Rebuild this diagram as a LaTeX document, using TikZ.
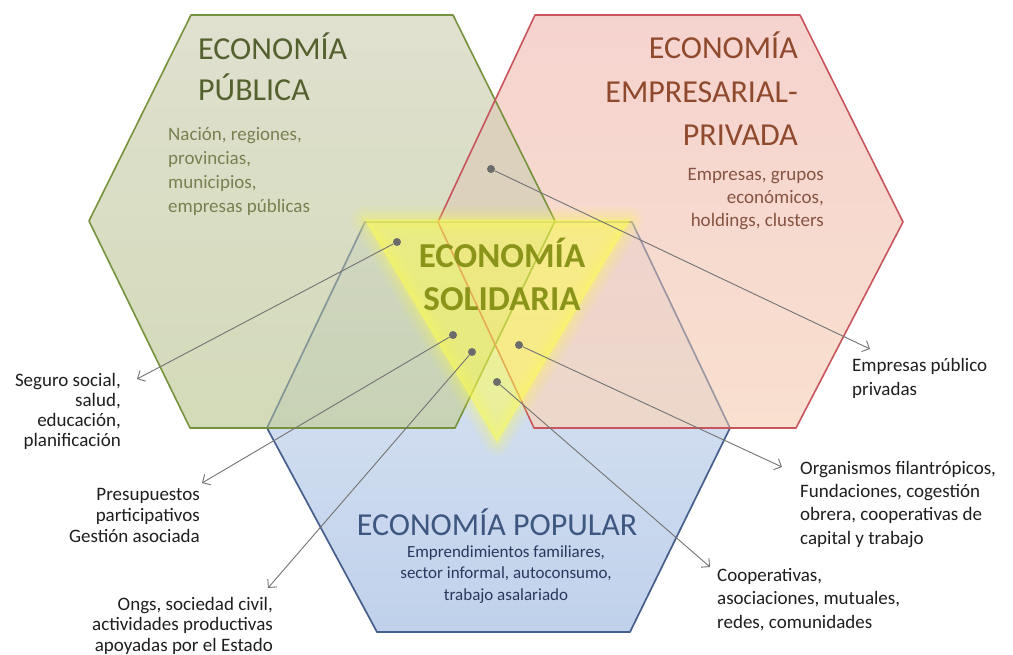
\documentclass[tikz,border=0pt]{standalone}
\usepackage{fontspec}
\setmainfont{Carlito}
\usetikzlibrary{arrows.meta}
\definecolor{gEdge}{RGB}{118,146,60}
\definecolor{rEdge}{RGB}{200,85,92}
\definecolor{bEdge}{RGB}{70,95,140}
\definecolor{gTop}{rgb}{0.84,0.84,0.75}
\definecolor{gBot}{rgb}{0.77,0.81,0.63}
\definecolor{rTop}{rgb}{0.95,0.77,0.75}
\definecolor{rBot}{rgb}{0.97,0.84,0.75}
\definecolor{bTop}{rgb}{0.88,0.91,0.96}
\definecolor{bBot}{rgb}{0.75,0.82,0.92}
\definecolor{ovl}{rgb}{0.86,0.82,0.74}
\definecolor{yel}{rgb}{1,1,0.3}
\definecolor{gTitle}{rgb}{0.33,0.38,0.18}
\definecolor{gSub}{rgb}{0.47,0.50,0.32}
\definecolor{rTitle}{rgb}{0.56,0.29,0.18}
\definecolor{rSub}{rgb}{0.52,0.33,0.26}
\definecolor{solCol}{rgb}{0.54,0.58,0.10}
\definecolor{popTitle}{rgb}{0.24,0.34,0.50}
\definecolor{popSub}{rgb}{0.16,0.22,0.36}
\definecolor{labcol}{rgb}{0.12,0.12,0.12}
\definecolor{dotgray}{rgb}{0.42,0.42,0.42}
\definecolor{linegray}{rgb}{0.45,0.45,0.45}
\begin{document}
\begin{tikzpicture}[x=1pt,y=-1pt,
  dot/.style={circle,fill=dotgray,inner sep=0pt,minimum size=8pt},
  conn/.style={draw=linegray,line width=0.9pt,-{Straight Barb[length=6pt,width=12pt]}},
  hexedge/.style={line width=1.6pt,line join=round},
  txt/.style={inner sep=0pt},
  lab/.style={inner sep=0pt,text=labcol}]
\useasboundingbox (0,0) rectangle (1013,655);
\fill[white] (0,0) rectangle (1013,655);
% blue hexagon
\shade[top color=bTop,bottom color=bBot] (365,222) -- (632,222) -- (730,428) -- (630,632) -- (377,632) -- (267,428) -- cycle;
\draw[hexedge,bEdge] (365,222) -- (632,222) -- (730,428) -- (630,632) -- (377,632) -- (267,428) -- cycle;
% green hexagon
\shade[top color=gTop,bottom color=gBot,opacity=0.75] (191,15) -- (453,15) -- (555,221) -- (455,428) -- (190,428) -- (89,221) -- cycle;
% red hexagon
\shade[top color=rTop,bottom color=rBot,opacity=0.75] (535,15) -- (800,15) -- (903,222) -- (796,428) -- (534,428) -- (438,222) -- cycle;
% overlap green/red
\begin{scope}
\clip (191,15) -- (453,15) -- (555,221) -- (455,428) -- (190,428) -- (89,221) -- cycle;
\fill[ovl] (535,15) -- (800,15) -- (903,222) -- (796,428) -- (534,428) -- (438,222) -- cycle;
\end{scope}
\draw[hexedge,bEdge,draw opacity=0.35] (365,222) -- (632,222) -- (730,428) -- (630,632) -- (377,632) -- (267,428) -- cycle;
\draw[hexedge,gEdge] (191,15) -- (453,15) -- (555,221) -- (455,428) -- (190,428) -- (89,221) -- cycle;
\draw[hexedge,rEdge] (535,15) -- (800,15) -- (903,222) -- (796,428) -- (534,428) -- (438,222) -- cycle;
% triangle with glow
\foreach \w/\o in {28/0.05,22/0.07,16/0.08,10/0.1,5/0.12}{
  \draw[yel,line width=\w pt,opacity=\o,line join=round] (365,220) -- (630,220) -- (497,442) -- cycle;
}
\fill[yel,opacity=0.52] (365,220) -- (630,220) -- (497,442) -- cycle;
% titles and texts
\node[txt,anchor=north west,align=left,text=gTitle,font=\fontsize{32}{41}\selectfont] (tpub) at (198,33) {ECONOMÍA\\PÚBLICA};
\node[txt,anchor=north west,align=left,text=gSub,font=\fontsize{19}{24}\selectfont] (spub) at (168,127) {Nación, regiones,\\provincias,\\municipios,\\empresas públicas};
\node[txt,anchor=north east,align=right,text=rTitle,font=\fontsize{32}{43.5}\selectfont] (temp) at (798,32) {ECONOMÍA\\EMPRESARIAL-\\PRIVADA};
\node[txt,anchor=north east,align=right,text=rSub,font=\fontsize{19}{23}\selectfont] (semp) at (824,168) {Empresas, grupos\\económicos,\\holdings, clusters};
\node[txt,anchor=north,align=center,text=solCol,font=\bfseries\fontsize{35}{43}\selectfont] (tsol) at (502,238) {ECONOMÍA\\SOLIDARIA};
\node[txt,anchor=north,text=popTitle,font=\fontsize{32}{38}\selectfont] (tpop) at (497,509) {ECONOMÍA POPULAR};
\node[txt,anchor=north,align=center,text=popSub,font=\fontsize{17}{21.5}\selectfont] (spop) at (506,545) {Emprendimientos familiares,\\sector informal, autoconsumo,\\trabajo asalariado};
% outside labels
\node[lab,anchor=north east,align=right,font=\fontsize{19}{20}\selectfont] (lseg) at (121,373) {Seguro social,\\salud,\\educación,\\planificación};
\node[lab,anchor=north east,align=right,font=\fontsize{19}{21}\selectfont] (lpre) at (200,488) {Presupuestos\\participativos\\Gestión asociada};
\node[lab,anchor=north east,align=right,font=\fontsize{19}{20.5}\selectfont] (long) at (273,597) {Ongs, sociedad civil,\\actividades productivas\\apoyadas por el Estado};
\node[lab,anchor=north west,align=left,font=\fontsize{19}{24}\selectfont] (lemp) at (852,358) {Empresas público\\privadas};
\node[lab,anchor=north west,align=left,font=\fontsize{19}{23.3}\selectfont] (lorg) at (800,461) {Organismos filantrópicos,\\Fundaciones, cogestión\\obrera, cooperativas de\\capital y trabajo};
\node[lab,anchor=north west,align=left,font=\fontsize{19}{23.5}\selectfont] (lcoo) at (717,568) {Cooperativas,\\asociaciones, mutuales,\\redes, comunidades};
% dots
\node[dot] (d1) at (397,242) {};
\node[dot] (d2) at (453,335) {};
\node[dot] (d3) at (472,352) {};
\node[dot] (d4) at (519,345) {};
\node[dot] (d5) at (497,382) {};
\node[dot] (d6) at (491,169) {};
% arrow ends
\coordinate (e1) at (137,379);
\coordinate (e2) at (202,483);
\coordinate (e3) at (268,588);
\coordinate (e4) at (782,467);
\coordinate (e5) at (710,567);
\coordinate (e6) at (870,349);
\draw[conn] (d1) -- (e1);
\draw[conn] (d2) -- (e2);
\draw[conn] (d3) -- (e3);
\draw[conn] (d4) -- (e4);
\draw[conn] (d5) -- (e5);
\draw[conn] (d6) -- (e6);
\end{tikzpicture}
\end{document}
